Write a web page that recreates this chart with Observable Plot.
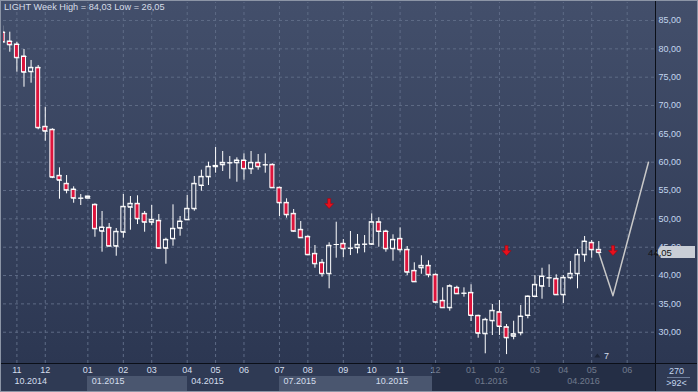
<!DOCTYPE html>
<html><head><meta charset="utf-8">
<script src="https://cdn.jsdelivr.net/npm/d3@7"></script>
<script src="https://cdn.jsdelivr.net/npm/@observablehq/plot@0.6"></script>
<style>
html,body{margin:0;padding:0;background:#2b3650;}
#chart{position:relative;width:698px;height:392px;overflow:hidden;}
#title{position:absolute;left:4px;top:2px;font:9.2px "Liberation Sans",Arial,sans-serif;color:#d6dde8;z-index:2;white-space:nowrap;}
</style></head><body><div id="chart"><div id="title">LIGHT Week High = 84,03 Low = 26,05</div></div>
<script>
// weekly OHLC, Nov 2014 – May 2016
const open = [82.9,81.3,80.77,78.65,75.95,76.66,66.25,65.72,57.6,56.19,55.18,53.65,53.65,52.48,47.82,48.42,45.18,47.65,52.06,52.66,50.89,49.41,49.66,44.82,46.48,48.35,49.83,51.78,55.89,57.42,59.2,59.54,59.89,59.89,60.3,58.83,59.89,59.54,59.54,55.48,52.83,50.89,48.07,46.83,43.83,42.25,40.31,45.48,45.6,44.82,44.89,45.53,45.53,49.41,47.77,44.72,46.48,44.54,40.83,41.36,41.72,40.13,35.54,34.31,37.83,36.88,36.95,32.89,29.72,32.01,33.53,30.88,29.29,29.89,32.95,36.3,38.12,39.6,39.42,36.6,39.6,40.31,43.66,45.78,44.54];
const high = [84.03,82.94,81.17,79.89,77.95,77.06,69.7,65.9,59.01,57.65,55.66,54.3,54.0,52.66,51.3,49.18,48.3,54.3,53.95,54.07,51.3,52.36,50.77,46.59,52.48,50.42,54.12,57.48,58.59,60.0,62.59,61.89,61.0,60.77,61.48,61.89,61.36,61.48,59.7,55.59,53.54,51.65,49.53,47.0,45.3,42.83,45.78,49.41,46.36,47.77,47.24,47.06,50.89,50.19,48.0,47.19,48.42,45.12,42.25,43.48,42.6,40.3,37.83,38.36,38.12,37.83,38.36,33.0,32.47,34.89,35.59,31.36,31.94,34.71,36.4,40.01,41.29,41.89,40.13,40.01,42.48,44.59,46.89,46.18,46.0];
const low = [80.9,79.41,75.88,73.23,73.94,65.72,63.7,57.1,53.47,54.42,52.76,52.36,53.6,46.76,44.12,45.1,43.41,46.59,48.0,49.0,47.65,48.78,44.65,42.0,45.18,46.94,49.8,51.35,54.88,55.89,58.06,58.36,57.0,56.47,56.82,57.83,58.59,58.06,55.4,50.42,50.12,47.65,46.59,43.5,41.29,39.71,37.66,43.06,43.13,43.53,43.83,44.01,45.3,45.0,44.12,42.53,44.01,40.0,38.89,40.23,39.6,35.01,34.31,33.71,36.7,36.18,31.89,28.94,26.19,29.42,29.42,26.05,28.66,29.36,32.36,36.07,35.82,37.89,36.6,35.06,39.25,37.66,42.35,43.06,44.05];
const close = [81.2,80.71,78.42,75.88,76.66,66.07,65.47,57.35,56.82,55.06,53.65,53.65,53.95,48.25,48.48,45.18,47.72,52.13,52.66,50.01,49.41,49.83,44.82,46.3,48.25,49.53,51.78,56.19,57.42,59.19,59.35,59.89,59.89,60.3,58.83,59.89,59.19,59.54,55.48,52.83,50.72,47.82,46.66,43.66,42.07,40.31,45.25,45.48,44.72,44.82,45.42,45.53,49.41,47.77,44.72,46.3,44.54,40.59,38.89,41.72,40.13,35.29,34.31,38.12,36.78,36.88,32.95,29.82,32.19,33.78,31.01,29.01,29.65,32.77,36.3,38.36,39.83,39.6,36.6,39.6,40.31,43.66,46.0,44.54,44.05];

// month ticks (bar index of first week) and labels
const monthIdx = [3,7,13,18,22,27,31,35,40,44,49,53,57,62,67,71,76,80,84,89];
const monthLabels = ["11","12","01","02","03","04","05","06","07","08","09","10","11","12","01","02","03","04","05","06"];
const quarterIdx = [2.1,13,27,40,53,67,80];
const quarterLabels = ["10.2014","01.2015","04.2015","07.2015","10.2015","01.2016","04.2016"];
const yTicks = [30,35,40,45,50,55,60,65,70,75,80,85];

// projection path and signal arrows
const projIdx = [85,87,92];
const projVal = [44.05,36.45,60.0];
const arrowIdx = [47,72,87];
const arrowVal = [52.7,44.4,44.4];
const lastPrice = 44.05;
const barsAhead = "7";

const candles = open.map((o,k)=>({i:k+1, open:o, close:close[k], high:high[k], low:low[k],
  top:Math.max(o,close[k]), bot:Math.min(o,close[k]), down: close[k] < o}));
const proj = projIdx.map((x,k)=>({x, y:projVal[k]}));
const arrows = arrowIdx.map((x,k)=>({x, y:arrowVal[k]}));
const fmt = v => v.toFixed(2).replace(".", ",");

const W = 698, H = 392, mL = 3, mR = 43, mT = 2, mB = 29;

const arrowSymbol = {draw(ctx){
  ctx.moveTo(-1.5,-5); ctx.lineTo(1.5,-5); ctx.lineTo(1.5,0); ctx.lineTo(4.5,0);
  ctx.lineTo(0,5); ctx.lineTo(-4.5,0); ctx.lineTo(-1.5,0); ctx.closePath();
}};
const triSymbol = {draw(ctx){
  ctx.moveTo(-3,2); ctx.lineTo(0,-2); ctx.lineTo(3,2); ctx.closePath();
}};

function background(index, scales, values, dims) {
  const g = d3.create("svg:g");
  const defs = g.append("defs");
  const lg = defs.append("linearGradient").attr("id","bgGrad").attr("x1",0).attr("y1",0).attr("x2",0).attr("y2",1);
  lg.append("stop").attr("offset","0%").attr("stop-color","#434f6b");
  lg.append("stop").attr("offset","100%").attr("stop-color","#2c3752");
  const bottom = H - mB;
  g.append("rect").attr("x",0).attr("y",0).attr("width",W).attr("height",bottom).attr("fill","url(#bgGrad)");
  // bottom time panel
  g.append("rect").attr("x",0).attr("y",bottom).attr("width",W).attr("height",mB).attr("fill","#2f3a54");
  const x = scales.x;
  const boxes = [[13,27],[40,61.5]];
  for (const [a,b] of boxes) {
    g.append("rect").attr("x",Math.round(x(a))).attr("y",bottom+13).attr("width",Math.round(x(b))-Math.round(x(a))).attr("height",mB-14)
      .attr("fill","#4a566f");
  }
  return g.node();
}

function overlay(index, scales, values, dims) {
  const g = d3.create("svg:g");
  const x = scales.x, y = scales.y;
  const bottom = H - mB;
  const x0 = Math.round(x(61.5));
  g.append("rect").attr("x",x0).attr("y",bottom+1).attr("width",(W-mR)-x0).attr("height",mB-2)
    .attr("fill","#1b2439").attr("fill-opacity",0.55);
  // dividers
  g.append("line").attr("x1",0).attr("x2",W).attr("y1",bottom+0.5).attr("y2",bottom+0.5).attr("stroke","#0b0f18");
  g.append("line").attr("x1",W-mR+0.5).attr("x2",W-mR+0.5).attr("y1",0).attr("y2",H).attr("stroke","#0b0f18");
  // outer frame
  g.append("rect").attr("x",0.5).attr("y",0.5).attr("width",W-1).attr("height",H-1).attr("fill","none").attr("stroke","#8c95a6");
  // last price tag
  const py = Math.round(y(lastPrice));
  const xl = W - mR + 1;
  g.append("path").attr("d",`M${xl},${py} L${xl+5},${py-6} L${W-3},${py-6} L${W-3},${py+6} L${xl+5},${py+6} Z`)
    .attr("fill","#c9ced6");
  g.append("text").attr("x",xl+4).attr("y",py+3.5).attr("fill","#111").attr("font-size","9.5px").text(fmt(lastPrice));
  // corner box text
  g.append("text").attr("x",W-mR/2).attr("y",bottom+11).attr("text-anchor","middle").attr("fill","#c3d6ee").attr("font-size","9px").text("270");
  g.append("line").attr("x1",W-mR+12).attr("x2",W-8).attr("y1",bottom+14.5).attr("y2",bottom+14.5).attr("stroke","#6e7d98");
  g.append("text").attr("x",W-mR/2).attr("y",bottom+23).attr("text-anchor","middle").attr("fill","#c3d6ee").attr("font-size","9px").text(">92<");
  return g.node();
}

const plot = Plot.plot({
  width: W, height: H,
  marginLeft: mL, marginRight: mR, marginTop: mT, marginBottom: mB,
  style: {background: "transparent", fontFamily: "'Liberation Sans', Arial, sans-serif", fontSize: "9px", color: "#c3d6ee"},
  x: {domain: [1.113, 92.99], axis: null},
  y: {domain: [24.48, 88.18], axis: null},
  marks: [
    background,
    Plot.ruleY(yTicks, {stroke: "#5e6b86", strokeDasharray: "3,3"}),
    Plot.ruleX(monthIdx, {x: d => d, stroke: "#5e6b86", strokeDasharray: "3,3", y1: 24.48, y2: 88.18}),
    Plot.line(proj, {x: "x", y: "y", stroke: "#c8c8c8", strokeWidth: 1.5, clip: true}),
    Plot.ruleX(candles, {x: "i", y1: "top", y2: "high", stroke: "#ffffff", clip: true}),
    Plot.ruleX(candles, {x: "i", y1: "low", y2: "bot", stroke: "#ffffff", clip: true}),
    Plot.rect(candles, {x1: "i", x2: "i", y1: "bot", y2: "top", insetLeft: -2, insetRight: -2,
      fill: d => d.down ? "#dc143c" : "none", stroke: "#ffffff", strokeWidth: 1, clip: true}),
    Plot.ruleY(candles, {y: "open", x1: "i", x2: "i", insetLeft: -2, insetRight: -3, stroke: "#ffffff", clip: true}),
    Plot.ruleY(candles, {y: "close", x1: "i", x2: "i", insetLeft: -2, insetRight: -3, stroke: "#ffffff", clip: true}),
    Plot.dot(arrows, {x: "x", y: "y", symbol: arrowSymbol, fill: "#e8101c", stroke: "#a00010", strokeWidth: 0.5}),
    Plot.axisY(yTicks, {anchor: "right", tickSize: 0, tickPadding: 3, textAnchor: "start", tickFormat: fmt, fill: "#c3d6ee"}),
    Plot.text(monthIdx, {x: d => d, text: (d,k) => monthLabels[k], frameAnchor: "bottom", dy: 9, fill: "#d4deec"}),
    Plot.text(quarterIdx, {x: d => d, text: (d,k) => quarterLabels[k], frameAnchor: "bottom", dy: 20, dx: 4, textAnchor: "start", fill: "#d4deec"}),
    Plot.dot([84.8], {x: d => d, frameAnchor: "bottom", dy: -8, symbol: triSymbol, fill: "#1c2436"}),
    Plot.text([86.1], {x: d => d, text: [barsAhead], frameAnchor: "bottom", dy: -5, fill: "#d4deec"}),
    overlay
  ]
});
document.getElementById("chart").appendChild(plot);
plot.style.position = "absolute"; plot.style.left = "0"; plot.style.top = "0";
</script></body></html>
